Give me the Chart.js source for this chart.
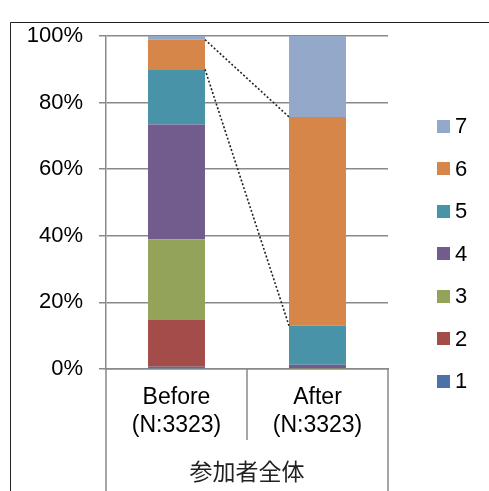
<!DOCTYPE html>
<html>
<head>
<meta charset="utf-8">
<script src="https://cdn.jsdelivr.net/npm/chart.js@4/dist/chart.umd.min.js"></script>
<style>
  html, body { margin: 0; padding: 0; background: #fff; }
  canvas { display: block; }
</style>
</head>
<body>
<canvas id="c" width="489" height="491"></canvas>
<script>
// Response levels 1..7, share of participants before and after
const categories = [['Before', '(N:3323)'], ['After', '(N:3323)']];
const groupLabel = '参加者全体';
const seriesNames = ['1', '2', '3', '4', '5', '6', '7'];
const beforeValues = [0.7, 14.2, 24.1, 34.4, 16.6, 8.9, 1.1];
const afterValues = [0, 0, 0.1, 1.2, 11.7, 62.7, 24.3];
const yTicks = [0, 20, 40, 60, 80, 100];
const seriesColors = ['#4a74a8', '#a44c4a', '#93a45a', '#725b8d', '#4893a7', '#d7864a', '#94a8c9'];

const LATIN = '"Liberation Sans", Arial, sans-serif';
const CJK = '"Noto Sans CJK JP", "Noto Sans CJK SC", sans-serif';
const GRID = '#898989';

const datasets = seriesNames.map((name, i) => ({
  label: name,
  data: [beforeValues[i], afterValues[i]],
  backgroundColor: seriesColors[i],
  borderWidth: 0,
  categoryPercentage: 1,
  barPercentage: 0.404
}));

// Frame, dotted connector lines, category separators and group label, legend
const decorations = {
  id: 'decorations',
  beforeDraw(chart) {
    const ctx = chart.ctx;
    ctx.save();
    ctx.strokeStyle = '#222';
    ctx.lineWidth = 1;
    ctx.beginPath();
    ctx.moveTo(10.5, chart.height);
    ctx.lineTo(10.5, 22.5);
    ctx.lineTo(chart.width, 22.5);
    ctx.stroke();
    ctx.restore();
  },
  afterDatasetsDraw(chart) {
    const ctx = chart.ctx;
    ctx.save();
    ctx.strokeStyle = '#222';
    ctx.lineWidth = 1.6;
    ctx.setLineDash([2, 2]);
    [5, 4].forEach(di => {
      const bars = chart.getDatasetMeta(di).data;
      const a = bars[0], b = bars[1];
      ctx.beginPath();
      ctx.moveTo(a.x + a.width / 2, a.y);
      ctx.lineTo(b.x - b.width / 2, b.y);
      ctx.stroke();
    });
    ctx.restore();
  },
  afterDraw(chart) {
    const ctx = chart.ctx;
    const area = chart.chartArea;
    ctx.save();
    // separators below the category axis
    ctx.strokeStyle = GRID;
    ctx.lineWidth = 1.5;
    const step = (area.right - area.left) / categories.length;
    for (let i = 0; i <= categories.length; i++) {
      const px = Math.round(area.left + step * i);
      const end = (i === 0 || i === categories.length) ? chart.height : area.bottom + 71;
      ctx.beginPath();
      ctx.moveTo(px, area.bottom);
      ctx.lineTo(px, end);
      ctx.stroke();
    }
    // group label
    ctx.fillStyle = '#222';
    ctx.font = '23px ' + CJK;
    ctx.textAlign = 'center';
    ctx.textBaseline = 'middle';
    ctx.fillText(groupLabel, (area.left + area.right) / 2, 471);
    // legend, top item is the last series
    ctx.font = '22px ' + LATIN;
    ctx.textAlign = 'left';
    chart.data.datasets.slice().reverse().forEach((ds, k) => {
      const cy = 126.3 + k * 42.45;
      ctx.fillStyle = ds.backgroundColor;
      ctx.fillRect(437, Math.round(cy - 6.5), 13, 13);
      ctx.fillStyle = '#000';
      ctx.fillText(ds.label, 455, cy + 1);
    });
    ctx.restore();
  }
};

new Chart(document.getElementById('c'), {
  type: 'bar',
  data: { labels: categories, datasets },
  plugins: [decorations],
  options: {
    responsive: false,
    animation: false,
    events: [],
    layout: { padding: { left: 0, top: 36, right: 101, bottom: 0 } },
    plugins: { legend: { display: false }, tooltip: { enabled: false } },
    scales: {
      x: {
        stacked: true,
        grid: { display: false, drawTicks: false },
        border: { display: true, color: GRID, width: 1.5 },
        ticks: {
          color: '#000',
          padding: 15,
          maxRotation: 0,
          font: { family: LATIN, size: 23, lineHeight: 1.22 }
        },
        afterFit(scale) { scale.height = 122; }
      },
      y: {
        stacked: true,
        min: 0,
        max: 100,
        afterBuildTicks(scale) { scale.ticks = yTicks.map(v => ({ value: v })); },
        grid: { color: GRID, lineWidth: 1.5, tickLength: 7 },
        border: { display: true, color: GRID, width: 1.5 },
        ticks: {
          color: '#000',
          padding: 16,
          font: { family: LATIN, size: 22 },
          callback: v => v + '%'
        },
        afterFit(scale) { scale.width = 106; }
      }
    }
  }
});
</script>
</body>
</html>
